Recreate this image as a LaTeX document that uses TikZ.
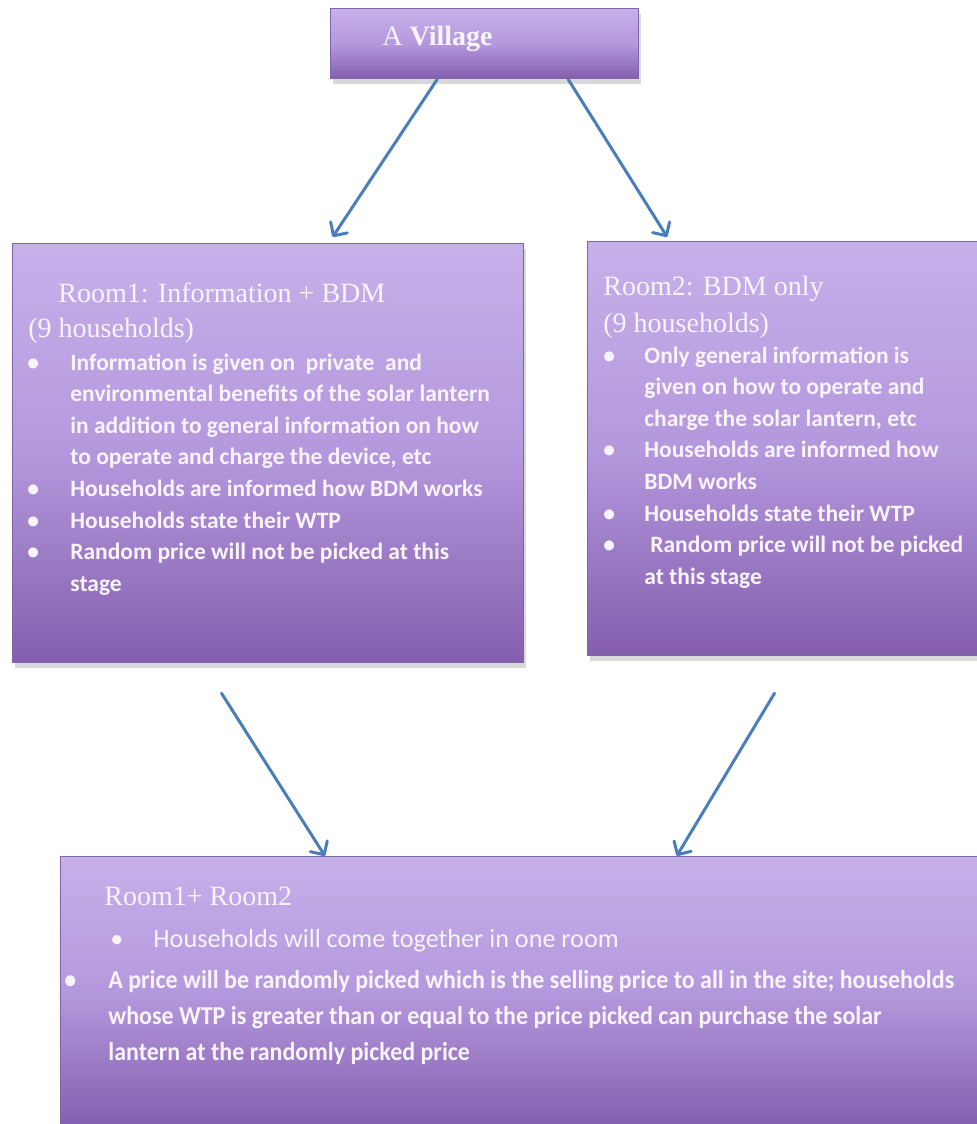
\documentclass[tikz,border=0pt]{standalone}
\usepackage{fontspec}
\setmainfont{Liberation Serif}
\newfontfamily\bodyfont{Carlito}
\newfontfamily\narrowfont{Carlito}[FakeStretch=0.93]
\usetikzlibrary{arrows.meta,shadows,calc}

\definecolor{boxtop}{RGB}{198,176,234}
\definecolor{boxmid}{RGB}{180,152,221}
\definecolor{boxbot}{RGB}{132,94,174}
\definecolor{boxline}{RGB}{128,100,168}
\definecolor{boxtext}{RGB}{248,243,252}
\definecolor{flowblue}{RGB}{74,126,187}

% one bullet: dot, then the lines of #2 hung at #1
\newcommand{\bul}[2]{\par\hangindent=#1\hangafter=1\noindent\makebox[#1][l]{\hspace{-3pt}\textbullet}#2}

\begin{document}
\begin{tikzpicture}[x=0.5pt, y=-0.5pt,
  box/.style={draw=boxline, line width=0.6pt, top color=boxtop, bottom color=boxbot, middle color=boxmid, anchor=north west, inner sep=0pt, drop shadow={shadow xshift=1pt, shadow yshift=-2.5pt, opacity=0.3}},
  head/.style={anchor=base west, inner sep=0pt, text=boxtext, font=\fontsize{14}{17}\selectfont},
  list/.style={anchor=base west, inner sep=0pt, text=boxtext, font=\bodyfont\bfseries\fontsize{11.75}{15.8}\selectfont},
  flow/.style={draw=flowblue, line width=1.5pt, line cap=round, -{Straight Barb[length=5pt,width=10pt,round]}}]
\useasboundingbox (0,0) rectangle (976,1124);

\node[box, minimum width=154pt, minimum height=35pt] (village) at (330,8) {};
\node[box, minimum width=255.5pt, minimum height=209.5pt] (room1) at (12,243) {};
\node[box, minimum width=196pt, minimum height=207pt] (room2) at (587,241) {};
\node[box, minimum width=461pt, minimum height=136pt] (both) at (60,856) {};

\node[head] (vtitle) at (382,46) {A \textbf{Village}};

\node[head] (r1title) at (58,302) {Room1: Information + BDM};
\node[head] (r1count) at (28,337) {(9 households)};
\node[list] (r1list) at (33,370) {\parbox[t]{250pt}{%
  \bul{18.5pt}{Information is given on~~private~~and\\environmental benefits of the solar lantern\\in addition to general information on how\\to operate and charge the device, etc}
  \bul{18.5pt}{Households are informed how BDM works}
  \bul{18.5pt}{Households state their WTP}
  \bul{18.5pt}{Random price will not be picked at this\\stage}}};

\node[head] (r2title) at (603,295) {Room2: BDM only};
\node[head] (r2count) at (603,332) {(9 households)};
\node[list] (r2list) at (609,363) {\parbox[t]{185pt}{%
  \bul{17.5pt}{Only general information is\\given on how to operate and\\charge the solar lantern, etc}
  \bul{17.5pt}{Households are informed how\\BDM works}
  \bul{17.5pt}{Households state their WTP}
  \bul{17.5pt}{\hspace{3pt}Random price will not be picked\\at this stage}}};

\node[head] (btitle) at (104,905) {Room1+ Room2};
\node[list, font=\bodyfont\fontsize{13.1}{18}\selectfont] (blist1) at (116,947) {\parbox[t]{300pt}{%
  \bul{18.5pt}{Households will come together in one room}}};
\node[list, font=\narrowfont\bfseries\fontsize{12.9}{18}\selectfont] (blist2) at (70,988) {\parbox[t]{450pt}{%
  \bul{19pt}{A price will be randomly picked which is the selling price to all in the site; households\\whose WTP is greater than or equal to the price picked can purchase the solar\\lantern at the randomly picked price}}};

\draw[flow] ($(village.south west)!.347!(village.south east)$) -- ($(room1.north west)!.626!(room1.north east)+(0,-6)$);
\draw[flow] ($(village.south west)!.770!(village.south east)$) -- ($(room2.north west)!.204!(room2.north east)+(0,-4)$);
\draw[flow] ($(room1.south west)!.409!(room1.south east)+(0,30)$) -- ($(both.north west)!.287!(both.north east)$);
\draw[flow] ($(room2.south west)!.477!(room2.south east)+(0,37)$) -- ($(both.north west)!.668!(both.north east)$);
\end{tikzpicture}
\end{document}
